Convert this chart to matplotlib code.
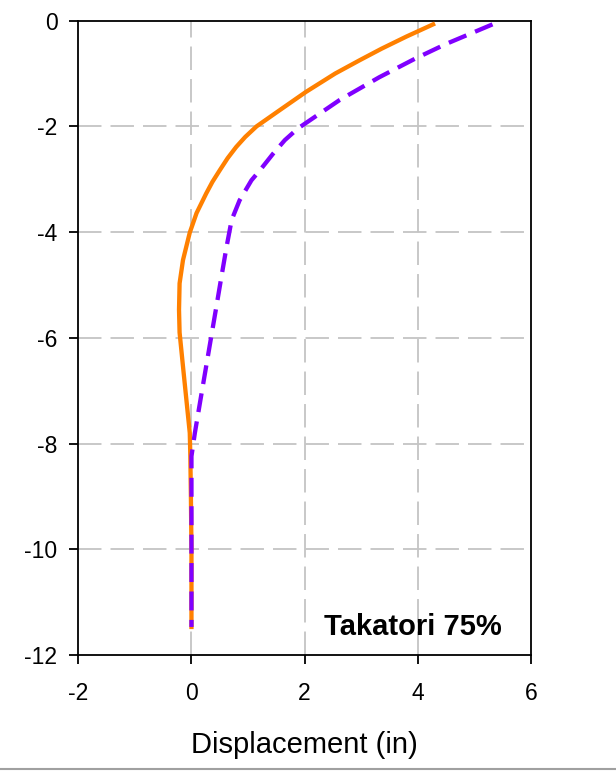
import matplotlib
matplotlib.use('Agg')
import matplotlib.pyplot as plt
from matplotlib.lines import Line2D

plt.rcParams['font.family'] = ['Liberation Sans', 'DejaVu Sans']

# pile displacement profiles, depth (ft) vs displacement (in)
depth_solid = [-0.07, -0.30, -0.53, -0.75, -1.0, -1.35, -1.70, -1.85, -2.0,
               -2.2, -2.39, -2.6, -2.83, -3.05, -3.27, -3.64, -4.01, -4.53,
               -4.97, -5.47, -5.9, -6.54, -7.17, -7.8, -8.24, -9.0, -10.0,
               -11.0, -11.47]
disp_solid = [4.27, 3.80, 3.36, 2.97, 2.54, 2.02, 1.55, 1.35, 1.15,
              0.95, 0.79, 0.64, 0.50, 0.37, 0.26, 0.09, -0.03, -0.15,
              -0.21, -0.22, -0.21, -0.15, -0.09, -0.03, -0.02, -0.01, 0.0,
              0.0, 0.0]

depth_dash = [-0.07, -0.44, -0.72, -1.07, -1.5, -2.04, -2.26, -2.52, -2.83,
              -3.02, -3.40, -3.77, -4.28, -4.84, -5.41, -5.91, -6.35, -7.04,
              -7.8, -8.24, -9.0, -10.0, -11.0, -11.47]
disp_dash = [5.32, 4.5, 3.95, 3.32, 2.62, 1.88, 1.65, 1.44, 1.21,
             1.06, 0.85, 0.71, 0.62, 0.53, 0.44, 0.36, 0.29, 0.18,
             0.06, 0.0, 0.0, 0.0, 0.0, 0.0]

xticks = [-2, 0, 2, 4, 6]
yticks = [0, -2, -4, -6, -8, -10, -12]
case_label = 'Takatori 75%'

fig = plt.figure(figsize=(6.16, 7.71), dpi=100)
ax = fig.add_axes([0.1271, 0.1505, 0.7349, 0.8227])

ax.plot(disp_solid, depth_solid, color='#ff8000', lw=3.1, zorder=3,
        solid_joinstyle='round')
ax.plot(disp_dash, depth_dash, color='#8000ff', lw=3.1, dashes=(4.4, 2.2),
        zorder=4)

ax.set_xlim(-2, 6)
ax.set_ylim(-12, 0)
ax.set_xticks(xticks)
ax.set_yticks(yticks)
ax.set_xticklabels([str(t) for t in xticks])
ax.set_yticklabels([str(t) for t in yticks])

# inner dashed grid only
for x in xticks[1:-1]:
    ax.axvline(x, color='#c4c4c4', lw=1.3, dashes=(13, 5), zorder=1)
for y in yticks[1:-1]:
    ax.axhline(y, color='#c4c4c4', lw=1.3, dashes=(13, 5), zorder=1)

for s in ax.spines.values():
    s.set_linewidth(1.3)
    s.set_color('black')
ax.tick_params(direction='out', length=6.5, width=1.3, labelsize=16.5)
ax.tick_params(axis='x', pad=13)
ax.tick_params(axis='y', pad=8.5)

ax.text(0.738, 0.0315, case_label, transform=ax.transAxes, ha='center',
        va='baseline', fontsize=21, fontweight='bold')

fig.text(0.4945, 0.023, 'Displacement (in)', ha='center', va='baseline',
         fontsize=21)

fig.add_artist(Line2D([0, 1], [0.002, 0.002], color='#a0a0a0', lw=1.5,
                      transform=fig.transFigure))

fig.savefig('out.png', dpi=100)
